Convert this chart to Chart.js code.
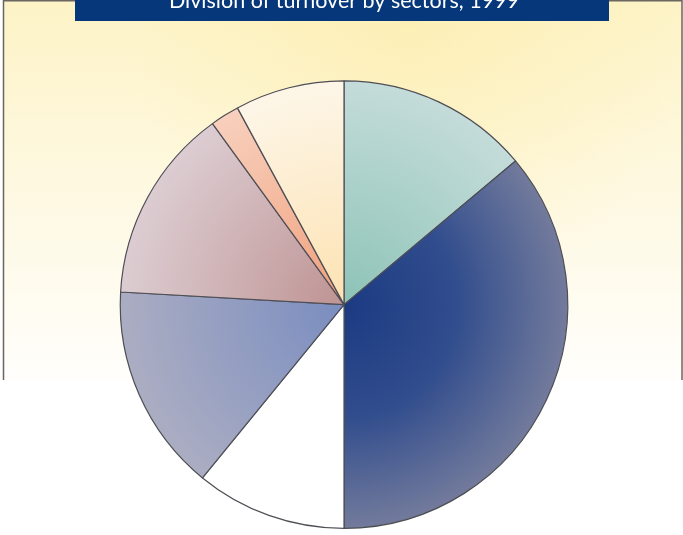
<!DOCTYPE html>
<html>
<head>
<meta charset="utf-8">
<title>Division of turnover by sectors, 1999</title>
<script src="https://cdn.jsdelivr.net/npm/chart.js@4.4.1/dist/chart.umd.min.js"></script>
<style>
  html, body { margin: 0; padding: 0; background: #ffffff; }
  canvas { display: block; }
</style>
</head>
<body>
<canvas id="turnoverPie" width="683" height="535"></canvas>
<script>
// ===== TURNOVER BY SECTOR =====

const sectors = ['Sector 1', 'Sector 2', 'Sector 3', 'Sector 4', 'Sector 5', 'Sector 6', 'Sector 7'];
// share of turnover, % (clockwise from 12 o'clock)
const turnoverShare = [13.9, 36.1, 10.9, 15.0, 14.1, 2.1, 7.9];
// slice shading: colour at the centre -> colour at the rim
const innerColors = ['#8dc3b7', '#1b3a82', '#ffffff', '#7a8dc0', '#bf9393', '#f0a07c', '#fde2b2'];
const outerColors = ['#c4dcda', '#737b9c', '#ffffff', '#abadc2', '#dccdd2', '#f8d0bd', '#fdf6e8'];

// radial fill for each slice, rebuilt whenever the chart area changes
function sliceFill(ctx) {
  const chart = ctx.chart;
  const area = chart.chartArea;
  const i = ctx.dataIndex;
  if (!area) return innerColors[i];
  const cx = (area.left + area.right) / 2;
  const cy = (area.top + area.bottom) / 2;
  const r = Math.min(area.right - area.left, area.bottom - area.top) / 2;
  const g = chart.ctx.createRadialGradient(cx, cy, 0, cx, cy, r);
  g.addColorStop(0, innerColors[i]);
  if (i === 1) g.addColorStop(0.5, '#314d8d');
  g.addColorStop(1, outerColors[i]);
  return g;
}

// pale yellow backdrop, thin frame and the navy title band
const backdrop = {
  id: 'backdrop',
  beforeDraw(chart) {
    const c = chart.ctx;
    const w = chart.width;
    c.save();
    const bg = c.createLinearGradient(0, 0, 0, 380);
    bg.addColorStop(0, '#fdf3c6');
    bg.addColorStop(0.45, '#fef8df');
    bg.addColorStop(1, '#fffefb');
    c.fillStyle = bg;
    c.fillRect(3, 0, w - 4, 380);
    const glow = c.createRadialGradient(w * 0.6, 30, 10, w * 0.6, 30, 280);
    glow.addColorStop(0, 'rgba(252,234,160,0.45)');
    glow.addColorStop(1, 'rgba(252,234,160,0)');
    c.fillStyle = glow;
    c.fillRect(3, 0, w - 4, 380);

    c.strokeStyle = '#6a6660';
    c.lineWidth = 1.5;
    c.beginPath();
    c.moveTo(3.5, 380);
    c.lineTo(3.5, 0.75);
    c.lineTo(w - 1, 0.75);
    c.lineTo(w - 1, 380);
    c.stroke();

    c.fillStyle = '#05377a';
    c.fillRect(75, 0, 534, 21);
    c.restore();
  }
};

new Chart(document.getElementById('turnoverPie'), {
  type: 'pie',
  data: {
    labels: sectors,
    datasets: [{
      data: turnoverShare,
      backgroundColor: sliceFill,
      borderColor: '#4e4e55',
      borderWidth: 1.2
    }]
  },
  options: {
    responsive: false,
    animation: false,
    layout: { padding: { left: 119, right: 114, top: 0, bottom: 6 } },
    plugins: {
      legend: { display: false },
      tooltip: { enabled: false },
      title: {
        display: true,
        text: 'Division of turnover by sectors, 1999',
        color: '#ffffff',
        font: { family: 'Lato', size: 21.5, weight: 'normal' },
        padding: { top: -11.5, bottom: 66 }
      }
    }
  },
  plugins: [backdrop]
});
</script>
</body>
</html>
